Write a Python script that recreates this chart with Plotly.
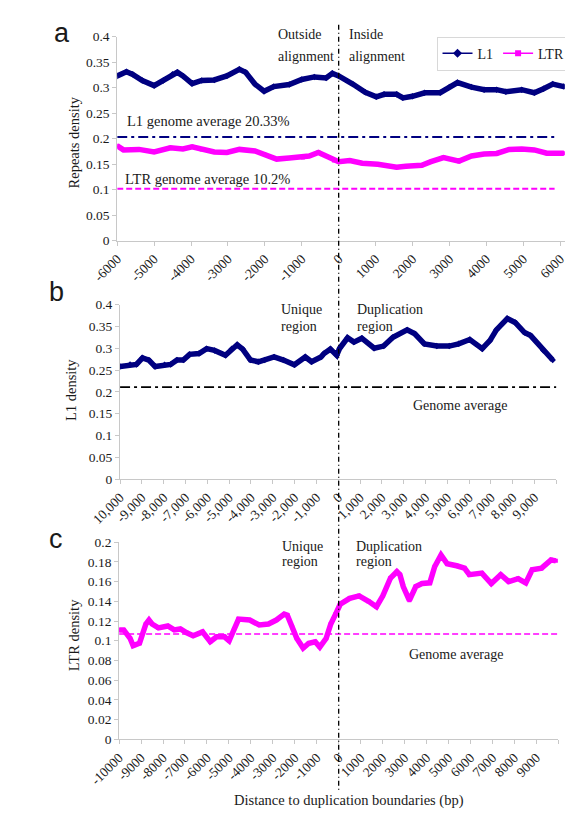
import plotly.graph_objects as go

W, H = 573, 814

# ---------------- data ----------------
# Panel a : repeats density around alignment boundary
a_l1_x = [-6000, -5750, -5580, -5320, -5000, -4750, -4500, -4370, -4220, -3970, -3710, -3370, -3030,
          -2690, -2520, -2270, -2020, -1760, -1340, -1000, -660, -340, -170, 0, 380, 720, 1020, 1230,
          1570, 1740, 2000, 2330, 2750, 3000, 3220, 3600, 3940, 4280, 4530, 4960, 5300, 5550, 5800, 6100]
a_l1_y = [0.323, 0.331, 0.326, 0.314, 0.304, 0.314, 0.326, 0.330, 0.323, 0.308, 0.314, 0.315, 0.323,
          0.336, 0.330, 0.307, 0.293, 0.302, 0.306, 0.316, 0.321, 0.319, 0.328, 0.323, 0.307, 0.291, 0.282, 0.287,
          0.287, 0.280, 0.283, 0.290, 0.290, 0.301, 0.310, 0.301, 0.296, 0.296, 0.292, 0.296, 0.290, 0.298, 0.307, 0.302]
a_ltr_x = [-6000, -5830, -5410, -5000, -4560, -4220, -3970, -3710, -3370, -3030, -2690, -2270, -2020,
           -1680, -1340, -970, -800, -550, -340, -130, 0, 300, 640, 1060, 1570, 1820, 2250, 2500, 2840,
           3260, 3600, 3940, 4280, 4620, 4960, 5300, 5640, 6100]
a_ltr_y = [0.186, 0.178, 0.179, 0.174, 0.182, 0.180, 0.184, 0.179, 0.174, 0.173, 0.179, 0.176, 0.170,
           0.160, 0.162, 0.163, 0.166, 0.173, 0.166, 0.157, 0.155, 0.157, 0.152, 0.150, 0.144, 0.146, 0.148, 0.155, 0.163,
           0.156, 0.166, 0.170, 0.171, 0.179, 0.180, 0.178, 0.1715, 0.1715]
L1_GENOME_AVG = 0.2033
LTR_GENOME_AVG = 0.102
a_avg_x = [-6000, 5850]
a_ticks = [-6000, -5000, -4000, -3000, -2000, -1000, 0, 1000, 2000, 3000, 4000, 5000, 6000]
a_ticktext = ["-6000", "-5000", "-4000", "-3000", "-2000", "-1000", "0",
              "1000", "2000", "3000", "4000", "5000", "6000"]
a_yticks = [0, 0.05, 0.1, 0.15, 0.2, 0.25, 0.3, 0.35, 0.4]
a_yticktext = ["0", "0.05", "0.1", "0.15", "0.2", "0.25", "0.3", "0.35", "0.4"]

# Panel b : L1 density around duplication boundaries
b_x = [-10000, -9540, -9250, -8970, -8680, -8390, -7960, -7680, -7390, -7100, -6810, -6380, -6030,
       -5670, -5170, -4880, -4630, -4380, -4020, -3660, -3370, -2940, -2510, -2010, -1510, -1220, -790,
       -650, -360, -70, 70, 430, 720, 1080, 1650, 2080, 2510, 3160, 3510, 3950, 4520, 5090, 5520, 6030,
       6600, 6960, 7250, 7750, 8110, 8540, 8820, 9400, 9830]
b_y = [0.258, 0.263, 0.263, 0.278, 0.273, 0.258, 0.262, 0.263, 0.273, 0.273, 0.286, 0.288, 0.299,
       0.295, 0.284, 0.299, 0.308, 0.298, 0.273, 0.269, 0.273, 0.280, 0.273, 0.262, 0.280, 0.269, 0.280,
       0.288, 0.298, 0.284, 0.300, 0.324, 0.314, 0.323, 0.300, 0.305, 0.325, 0.342, 0.333, 0.310, 0.305, 0.305, 0.310, 0.320,
       0.299, 0.318, 0.342, 0.368, 0.359, 0.336, 0.329, 0.295, 0.273]
B_GENOME_AVG = 0.211
bc_avg_x = [-10000, 10000]
b_ticks = [-10000, -9000, -8000, -7000, -6000, -5000, -4000, -3000, -2000, -1000, 0,
           1000, 2000, 3000, 4000, 5000, 6000, 7000, 8000, 9000, 10000]
b_ticktext = ["10,000", "-9,000", "-8,000", "-7,000", "-6,000", "-5,000", "-4,000", "-3,000", "-2,000",
              "-1,000", "0", "1,000", "2,000", "3,000", "4,000", "5,000", "6,000", "7,000", "8,000", "9,000", ""]

# Panel c : LTR density around duplication boundaries
c_x = [-10000, -9790, -9500, -9360, -9070, -8780, -8640, -8500, -8210, -7780, -7490, -7210, -6920,
       -6630, -6200, -5850, -5560, -5200, -4990, -4770, -4560, -4050, -3620, -3200, -2840, -2480, -2340,
       -2120, -1910, -1620, -1360, -1070, -860, -570, -360, -140, 70, 500, 930, 1360, 1720, 2010, 2360,
       2650, 2790, 2940, 3220, 3510, 3800, 4150, 4370, 4660, 4940, 5370, 5730, 5950, 6520, 6950, 7380,
       7740, 8170, 8520, 8810, 9240, 9670, 9890]
c_y = [0.111, 0.111, 0.1025, 0.095, 0.0975, 0.117, 0.121, 0.117, 0.113, 0.115, 0.111, 0.112, 0.108,
       0.105, 0.109, 0.099, 0.104, 0.104, 0.100, 0.111, 0.122, 0.121, 0.116, 0.117, 0.121, 0.127, 0.126,
       0.114, 0.1025, 0.0926, 0.0975, 0.099, 0.0936, 0.1025, 0.117, 0.127, 0.137, 0.143, 0.1455, 0.140, 0.1345, 0.1455, 0.1636,
       0.170, 0.167, 0.155, 0.141, 0.155, 0.158, 0.1587, 0.175, 0.187, 0.178, 0.176, 0.1736, 0.167, 0.1686, 0.158, 0.167,
       0.160, 0.163, 0.1587, 0.172, 0.1736, 0.182, 0.181]
C_GENOME_AVG = 0.1068
c_ticktext = ["-10000", "-9000", "-8000", "-7000", "-6000", "-5000", "-4000", "-3000", "-2000",
              "-1000", "0", "1000", "2000", "3000", "4000", "5000", "6000", "7000", "8000", "9000", ""]
bc_yticks = [0, 0.05, 0.1, 0.15, 0.2, 0.25, 0.3, 0.35, 0.4]
c_yticks = [0, 0.02, 0.04, 0.06, 0.08, 0.1, 0.12, 0.14, 0.16, 0.18, 0.2]
c_yticktext = ["0", "0.02", "0.04", "0.06", "0.08", "0.1", "0.12", "0.14", "0.16", "0.18", "0.2"]

# ---------------- styling ----------------
NAVY = "#000080"
MAGENTA = "#FF00FF"
SERIF = "Liberation Serif"
SANS = "Liberation Sans"
AXIS_GRAY = "#c8c8c8"
TXT = "#1a1a1a"


def px(x):
    return x / W


def py(y):
    return 1 - y / H


fig = go.Figure()

# panel a
fig.add_trace(go.Scatter(x=a_l1_x, y=a_l1_y, name="L1", mode="lines+markers", showlegend=False,
                         line=dict(color=NAVY, width=5.5),
                         marker=dict(symbol="diamond", size=5, color=NAVY),
                         xaxis="x", yaxis="y"))
fig.add_trace(go.Scatter(x=a_ltr_x, y=a_ltr_y, name="LTR", mode="lines+markers", showlegend=False,
                         line=dict(color=MAGENTA, width=5.5),
                         marker=dict(symbol="square", size=4, color=MAGENTA),
                         xaxis="x", yaxis="y"))
# legend entries (thin line + marker, as in the legend box)
fig.add_trace(go.Scatter(x=[None], y=[None], name="L1", mode="lines+markers",
                         line=dict(color=NAVY, width=1.5),
                         marker=dict(symbol="diamond", size=7, color=NAVY),
                         xaxis="x", yaxis="y"))
fig.add_trace(go.Scatter(x=[None], y=[None], name="LTR", mode="lines+markers",
                         line=dict(color=MAGENTA, width=1.5),
                         marker=dict(symbol="square", size=6, color=MAGENTA),
                         xaxis="x", yaxis="y"))
fig.add_trace(go.Scatter(x=a_avg_x, y=[L1_GENOME_AVG] * 2, mode="lines", showlegend=False,
                         line=dict(color=NAVY, width=2, dash="10px,4px,3px,4px"),
                         xaxis="x", yaxis="y"))
fig.add_trace(go.Scatter(x=a_avg_x, y=[LTR_GENOME_AVG] * 2, mode="lines", showlegend=False,
                         line=dict(color=MAGENTA, width=2, dash="6px,3px"),
                         xaxis="x", yaxis="y"))

# panel b
fig.add_trace(go.Scatter(x=b_x, y=b_y, mode="lines+markers", showlegend=False,
                         line=dict(color=NAVY, width=5.5),
                         marker=dict(symbol="diamond", size=5, color=NAVY),
                         xaxis="x2", yaxis="y2"))
fig.add_trace(go.Scatter(x=bc_avg_x, y=[B_GENOME_AVG] * 2, mode="lines", showlegend=False,
                         line=dict(color="black", width=1.6, dash="10px,4px,3px,4px"),
                         xaxis="x2", yaxis="y2"))

# panel c
fig.add_trace(go.Scatter(x=c_x, y=c_y, mode="lines+markers", showlegend=False,
                         line=dict(color=MAGENTA, width=5.5),
                         marker=dict(symbol="square", size=4, color=MAGENTA),
                         xaxis="x3", yaxis="y3"))
fig.add_trace(go.Scatter(x=bc_avg_x, y=[C_GENOME_AVG] * 2, mode="lines", showlegend=False,
                         line=dict(color=MAGENTA, width=1.6, dash="6px,3px"),
                         xaxis="x3", yaxis="y3"))

tickfont = dict(family=SERIF, size=13.5, color=TXT)
common_x = dict(showgrid=False, zeroline=False, showline=True, linecolor=AXIS_GRAY, linewidth=1,
                ticks="outside", ticklen=4, tickcolor=AXIS_GRAY, tickangle=-45,
                tickfont=tickfont, tickmode="array")
common_y = dict(showgrid=False, zeroline=False, showline=True, linecolor=AXIS_GRAY, linewidth=1,
                ticks="outside", ticklen=4, tickcolor=AXIS_GRAY,
                tickfont=tickfont, tickmode="array")

fig.update_layout(
    width=W, height=H,
    margin=dict(l=0, r=0, t=0, b=0),
    paper_bgcolor="white", plot_bgcolor="white",
    font=dict(family=SERIF, size=14, color=TXT),
    xaxis=dict(common_x, domain=[px(83), px(558)], range=[-6000, 6128], anchor="y",
               tickvals=a_ticks, ticktext=a_ticktext),
    yaxis=dict(common_y, domain=[py(230), py(22)], range=[0, 0.4], anchor="x",
               tickvals=a_yticks, ticktext=a_yticktext),
    xaxis2=dict(common_x, domain=[px(86), px(549)], range=[-10000, 10000], anchor="y2",
                tickvals=b_ticks, ticktext=b_ticktext),
    yaxis2=dict(common_y, domain=[py(473), py(295)], range=[0, 0.4], anchor="x2",
                tickvals=bc_yticks, ticktext=a_yticktext),
    xaxis3=dict(common_x, domain=[px(85), px(551)], range=[-10000, 10000], anchor="y3",
                tickvals=b_ticks, ticktext=c_ticktext),
    yaxis3=dict(common_y, domain=[py(738), py(537)], range=[0, 0.2], anchor="x3",
                tickvals=c_yticks, ticktext=c_yticktext),
    legend=dict(x=px(564), y=py(22), xanchor="right", yanchor="top", orientation="h",
                bordercolor="#d8d8d8", borderwidth=1, bgcolor="white",
                font=dict(family=SERIF, size=14, color=TXT),
                itemwidth=30, tracegroupgap=0),
    showlegend=True,
)

# vertical boundary line
fig.add_shape(type="line", xref="x", yref="paper", x0=0, x1=0, y0=py(10), y1=py(790),
              line=dict(color="black", width=1.3, dash="5px,3px,1px,3px"))

anns = []


def txt(x, y, s, size=14, family=SERIF, xanchor="left", angle=0):
    anns.append(dict(x=px(x), y=py(y), xref="paper", yref="paper", text=s, showarrow=False,
                     xanchor=xanchor, yanchor="middle", textangle=angle,
                     font=dict(family=family, size=size, color=TXT)))


# panel letters
txt(14, 18, "a", size=27, family=SANS)
txt(9, 282, "b", size=27, family=SANS)
txt(8, 534, "c", size=27, family=SANS)

# axis titles
txt(37, 130, "Repeats density", size=14.5, xanchor="center", angle=-90)
txt(34, 382, "L1 density", size=14.5, xanchor="center", angle=-90)
txt(38, 632, "LTR density", size=14.5, xanchor="center", angle=-90)
txt(329, 800, "Distance to duplication boundaries (bp)", size=14.5, xanchor="center")

# panel a texts
txt(252, 20, "Outside")
txt(252, 42, "alignment")
txt(327, 20, "Inside")
txt(327, 42, "alignment")
txt(91, 108, "L1 genome average 20.33%", size=14.5)
txt(89, 167, "LTR genome average 10.2%", size=14.5)

# panel b texts
txt(255, 300, "Unique")
txt(255, 317, "region")
txt(335, 300, "Duplication")
txt(335, 317, "region")
txt(395, 398, "Genome average")

# panel c texts
txt(256, 541, "Unique")
txt(256, 557, "region")
txt(334, 541, "Duplication")
txt(334, 557, "region")
txt(390, 651, "Genome average")

fig.update_layout(annotations=anns)

fig.write_html("out.html")
